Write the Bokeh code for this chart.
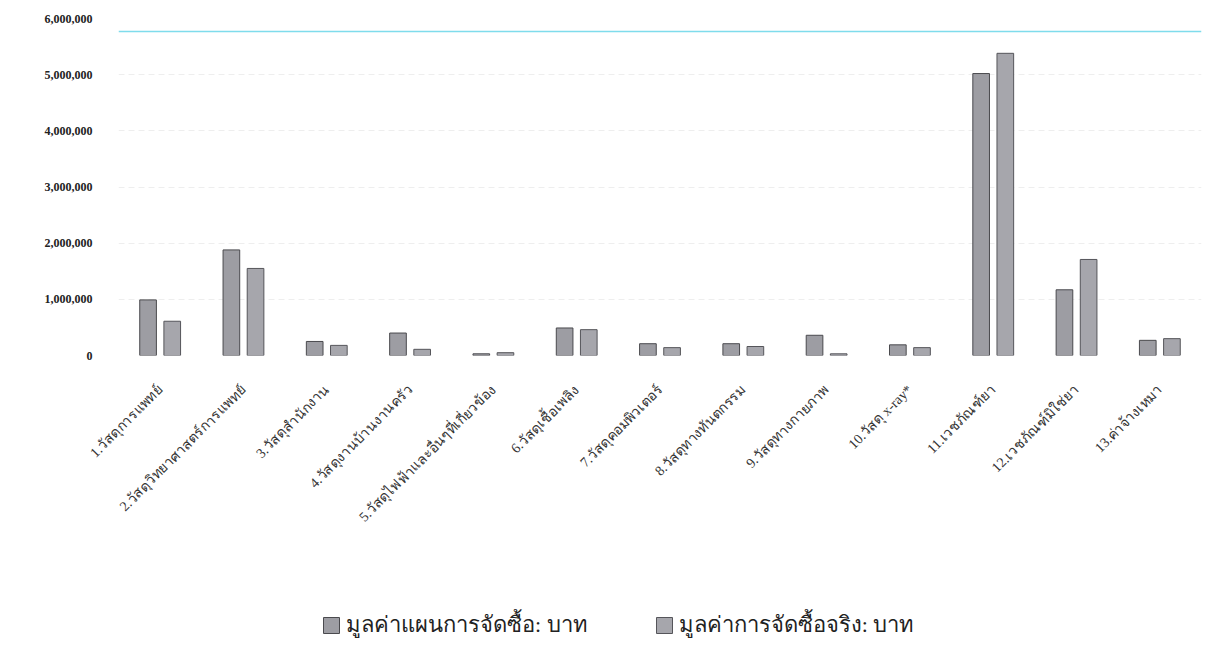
from bokeh.plotting import figure
from bokeh.layouts import column
from bokeh.models import ColumnDataSource, NumeralTickFormatter, Legend, LegendItem, Span
from bokeh.transform import dodge
from bokeh.embed import file_html
from bokeh.resources import INLINE
import math

categories = [
    "1.วัสดุการแพทย์",
    "2.วัสดุวิทยาศาสตร์การแพทย์",
    "3.วัสดุสำนักงาน",
    "4.วัสดุงานบ้านงานครัว",
    "5.วัสดุไฟฟ้าและอื่นๆที่เกี่ยวข้อง",
    "6.วัสดุเชื้อเพลิง",
    "7.วัสดุคอมพิวเตอร์",
    "8.วัสดุทางทันตกรรม",
    "9.วัสดุทางกายภาพ",
    "10.วัสดุ x-ray*",
    "11.เวชภัณฑ์ยา",
    "12.เวชภัณฑ์มิใช่ยา",
    "13.ค่าจ้างเหมา",
]
plan_values = [990000, 1880000, 250000, 400000, 30000, 490000, 210000, 210000, 360000, 190000, 5020000, 1170000, 270000]
actual_values = [610000, 1550000, 180000, 110000, 50000, 460000, 140000, 160000, 30000, 140000, 5380000, 1710000, 300000]
series_names = ["มูลค่าแผนการจัดซื้อ: บาท", "มูลค่าการจัดซื้อจริง: บาท"]

PLAN_FILL, PLAN_LINE = "#9d9da3", "#4a4a4e"
ACT_FILL, ACT_LINE = "#a6a6ac", "#55555a"
FONT = "Liberation Serif"

src = ColumnDataSource(dict(cat=categories, plan=plan_values, actual=actual_values))

p = figure(x_range=categories, y_range=(0, 6000000), width=1231, height=580,
           output_backend="svg", toolbar_location=None,
           min_border_left=118, min_border_right=30, min_border_top=18, min_border_bottom=225)

p.vbar(x=dodge("cat", -0.145, range=p.x_range), top="plan", width=0.2, source=src,
       fill_color=PLAN_FILL, line_color=PLAN_LINE, line_width=1)
p.vbar(x=dodge("cat", 0.145, range=p.x_range), top="actual", width=0.2, source=src,
       fill_color=ACT_FILL, line_color=ACT_LINE, line_width=1)

p.yaxis.formatter = NumeralTickFormatter(format="0,0")
p.yaxis.ticker.desired_num_ticks = 7
p.yaxis.major_label_text_font = FONT
p.yaxis.major_label_text_font_style = "bold"
p.yaxis.major_label_text_font_size = "12px"
p.yaxis.major_label_text_color = "#222222"
p.yaxis.axis_line_color = None
p.yaxis.major_tick_line_color = None
p.yaxis.minor_tick_line_color = None
p.yaxis.major_label_standoff = 20

p.xaxis.major_label_orientation = math.pi / 4
p.xaxis.major_label_text_font = FONT
p.xaxis.major_label_text_font_size = "14px"
p.xaxis.major_label_text_color = "#333333"
p.xaxis.axis_line_color = None
p.xaxis.major_tick_line_color = None
p.xaxis.major_label_standoff = 26

p.xgrid.grid_line_color = None
p.ygrid.grid_line_color = "#eeeeee"
p.ygrid.grid_line_dash = "6 4"
p.outline_line_color = None

p.add_layout(Span(location=5770000, dimension="width", line_color="#7fdcec", line_width=1.5))

# legend strip below the chart (proxy glyphs sit outside the visible range)
lg = figure(width=1231, height=85, x_range=(0, 1), y_range=(0, 1),
            output_backend="svg", toolbar_location=None, min_border=0)
lg.axis.visible = False
lg.grid.visible = False
lg.outline_line_color = None
d1 = lg.vbar(x=[-5], top=[-5], width=0.1, fill_color=PLAN_FILL, line_color=PLAN_LINE)
d2 = lg.vbar(x=[-5], top=[-5], width=0.1, fill_color=ACT_FILL, line_color=ACT_LINE)
legend = Legend(items=[LegendItem(label=series_names[0], renderers=[d1]),
                       LegendItem(label=series_names[1], renderers=[d2])],
                orientation="horizontal", location=(203, 23),
                label_text_font=FONT, label_text_font_size="22px", label_text_color="#222222",
                glyph_width=20, glyph_height=20, spacing=66, border_line_color=None,
                background_fill_alpha=0, margin=0, padding=0)
lg.add_layout(legend, "center")

open("out.html", "w").write(file_html(column(p, lg), INLINE))
